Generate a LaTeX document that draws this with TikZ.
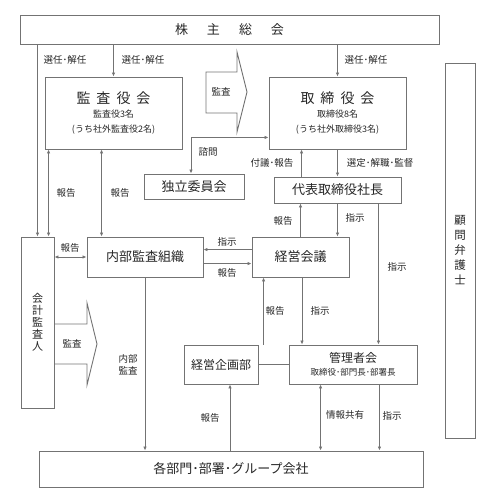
\documentclass[tikz,border=0pt]{standalone}
\usepackage{fontspec}
\setmainfont{Noto Sans CJK JP}
\usepackage{tikz}
\usetikzlibrary{arrows.meta}

\newcommand{\bigf}{\fontsize{13}{15}\selectfont}
\newcommand{\subf}{\fontsize{9}{10.5}\selectfont}
\tikzset{
  box/.style={draw=black!55, line width=0.9pt, inner sep=0pt, align=center, text=black!85, font=\bigf},
  lbl/.style={inner sep=0pt, align=center, text=black!85, font=\fontsize{9.5}{12}\selectfont},
  ln/.style={draw=black!55, line width=0.9pt},
  arr/.style={ln, -{Latex[length=4pt,width=3.5pt]}},
  arrs/.style={ln, {Latex[length=4pt,width=3.5pt]}-{Latex[length=4pt,width=3.5pt]}}
}

\begin{document}
\begin{tikzpicture}[x=1pt,y=-1pt]
\useasboundingbox (0,0) rectangle (493,502);
\node [box, minimum width=419pt, minimum height=29pt] (kabu) at (229.5,29.5) {株\hspace{19pt}主\hspace{19pt}総\hspace{19pt}会};
\node [box, minimum width=137pt, minimum height=72pt] (kansa) at (113.5,113) {\fontsize{14}{15}\selectfont 監\hspace{6pt}査\hspace{6pt}役\hspace{6pt}会\\[-1pt]\subf 監査役3名\\\subf (うち社外監査役2名)};
\node [box, minimum width=137pt, minimum height=72pt] (torishimari) at (337.5,113) {\fontsize{14}{15}\selectfont 取\hspace{6pt}締\hspace{6pt}役\hspace{6pt}会\\[-1pt]\subf 取締役8名\\\subf (うち社外取締役3名)};
\node [box, minimum width=100pt, minimum height=25pt] (dokuritsu) at (194,186.5) {独立委員会};
\node [box, minimum width=127pt, minimum height=26pt] (daihyo) at (337.5,190) {代表取締役社長};
\node [box, minimum width=97pt, minimum height=40pt] (keiei) at (300.5,257) {経営会議};
\node [box, minimum width=116pt, minimum height=40pt] (naibu) at (145,257) {内部監査組織};
\node [box, minimum width=33pt, minimum height=171pt, font=\fontsize{11}{12}\selectfont] (kaikei) at (37.5,322.5) {会\\計\\監\\査\\人};
\node [box, minimum width=74pt, minimum height=39pt, font=\fontsize{12}{14}\selectfont] (kikaku) at (221,364.5) {経営企画部};
\node [box, minimum width=128pt, minimum height=39pt, font=\fontsize{12}{14}\selectfont] (kanrisha) at (353,364.5) {管理者会\\[-1pt]\fontsize{8.5}{10}\selectfont 取締役･部門長･部署長};
\node [box, minimum width=384pt, minimum height=36pt] (bumon) at (231,469) {各部門･部署･グループ会社};
\node [box, minimum width=30pt, minimum height=375pt, font=\fontsize{11.5}{15}\selectfont] (komon) at (460,250.5) {顧\\問\\弁\\護\\士};

\draw [ln] (206,72) -- (237,72) -- (237,52) -- (247,92) -- (237,132) -- (237,113) -- (206,113) -- cycle;
\node [lbl] (kansaya1) at (221,92) {監査};
\draw [ln] (54,324) -- (87,324) -- (87,303) -- (97,344) -- (87,385) -- (87,364) -- (54,364);
\node [lbl] (kansaya2) at (72,344) {監査};

\draw [arr] (kabu.south -| kaikei.north) -- (kaikei.north);
\node [lbl] (l1) at (65,60) {選任･解任};
\draw [arr] (kabu.south -| kansa.north) -- (kansa.north);
\node [lbl] (l2) at (143,60) {選任･解任};
\draw [arr] (kabu.south -| torishimari.north) -- (torishimari.north);
\node [lbl] (l3) at (366,60) {選任･解任};
\draw [arrs] ([xshift=4pt]kansa.south west) -- ([xshift=4pt]kansa.south west |- kaikei.north);
\node [lbl] (l4) at (66,193) {報告};
\draw [arrs] ([xshift=15pt]naibu.north west |- kansa.south) -- ([xshift=15pt]naibu.north west);
\node [lbl] (l5) at (120,193) {報告};
\draw [arrs] ([yshift=12pt]torishimari.south west) -| ([xshift=-3pt]dokuritsu.north);
\node [lbl] (l6) at (208,152) {諮問};
\draw [arr] ([xshift=28pt]daihyo.north west) -- ([xshift=28pt]daihyo.north west |- torishimari.south);
\node [lbl] (l7) at (272,163) {付議･報告};
\draw [arr] (torishimari.south) -- (daihyo.north);
\node [lbl] (l8) at (380,163) {選定･解職･監督};
\draw [arr] (keiei.north) -- (keiei.north |- daihyo.south);
\node [lbl] (l9) at (283,221) {報告};
\draw [arr] (daihyo.south) -- (daihyo.south |- keiei.north);
\node [lbl] (l10) at (355,218) {指示};
\draw [arr] ([xshift=-23pt]daihyo.south east) -- ([xshift=-23pt]daihyo.south east |- kanrisha.north);
\node [lbl] (l11) at (397,267) {指示};
\draw [arr] ([yshift=-13pt]keiei.north west) -- ([yshift=-13pt]keiei.north west -| naibu.east);
\node [lbl] (l12) at (227,242) {指示};
\draw [arr] ([yshift=-27pt]naibu.north east) -- ([yshift=-27pt]naibu.north east -| keiei.west);
\node [lbl] (l13) at (227,273) {報告};
\draw [arrs] (naibu.west) -- (naibu.west -| kaikei.east);
\node [lbl] (l14) at (70,248) {報告};
\draw [arr] (naibu.south) -- (naibu.south |- bumon.north);
\node [lbl] (l15) at (128,365) {内部\\監査};
\draw [arr] ([xshift=12pt]keiei.south west |- kikaku.north) -- ([xshift=12pt]keiei.south west);
\node [lbl] (l16) at (275,311) {報告};
\draw [arr] ([xshift=1.5pt]keiei.south) -- ([xshift=1.5pt]keiei.south |- kanrisha.north);
\node [lbl] (l17) at (320,311) {指示};
\draw [ln] (kikaku.east) -- (kanrisha.west);
\draw [arr] ([xshift=9pt]kikaku.south |- bumon.north) -- ([xshift=9pt]kikaku.south);
\node [lbl] (l18) at (210,418) {報告};
\draw [arrs] ([xshift=32pt]kanrisha.south west) -- ([xshift=32pt]kanrisha.south west |- bumon.north);
\node [lbl] (l19) at (345,415) {情報共有};
\draw [arr] ([xshift=-38pt]kanrisha.south east) -- ([xshift=-38pt]kanrisha.south east |- bumon.north);
\node [lbl] (l20) at (392,416) {指示};
\end{tikzpicture}
\end{document}
